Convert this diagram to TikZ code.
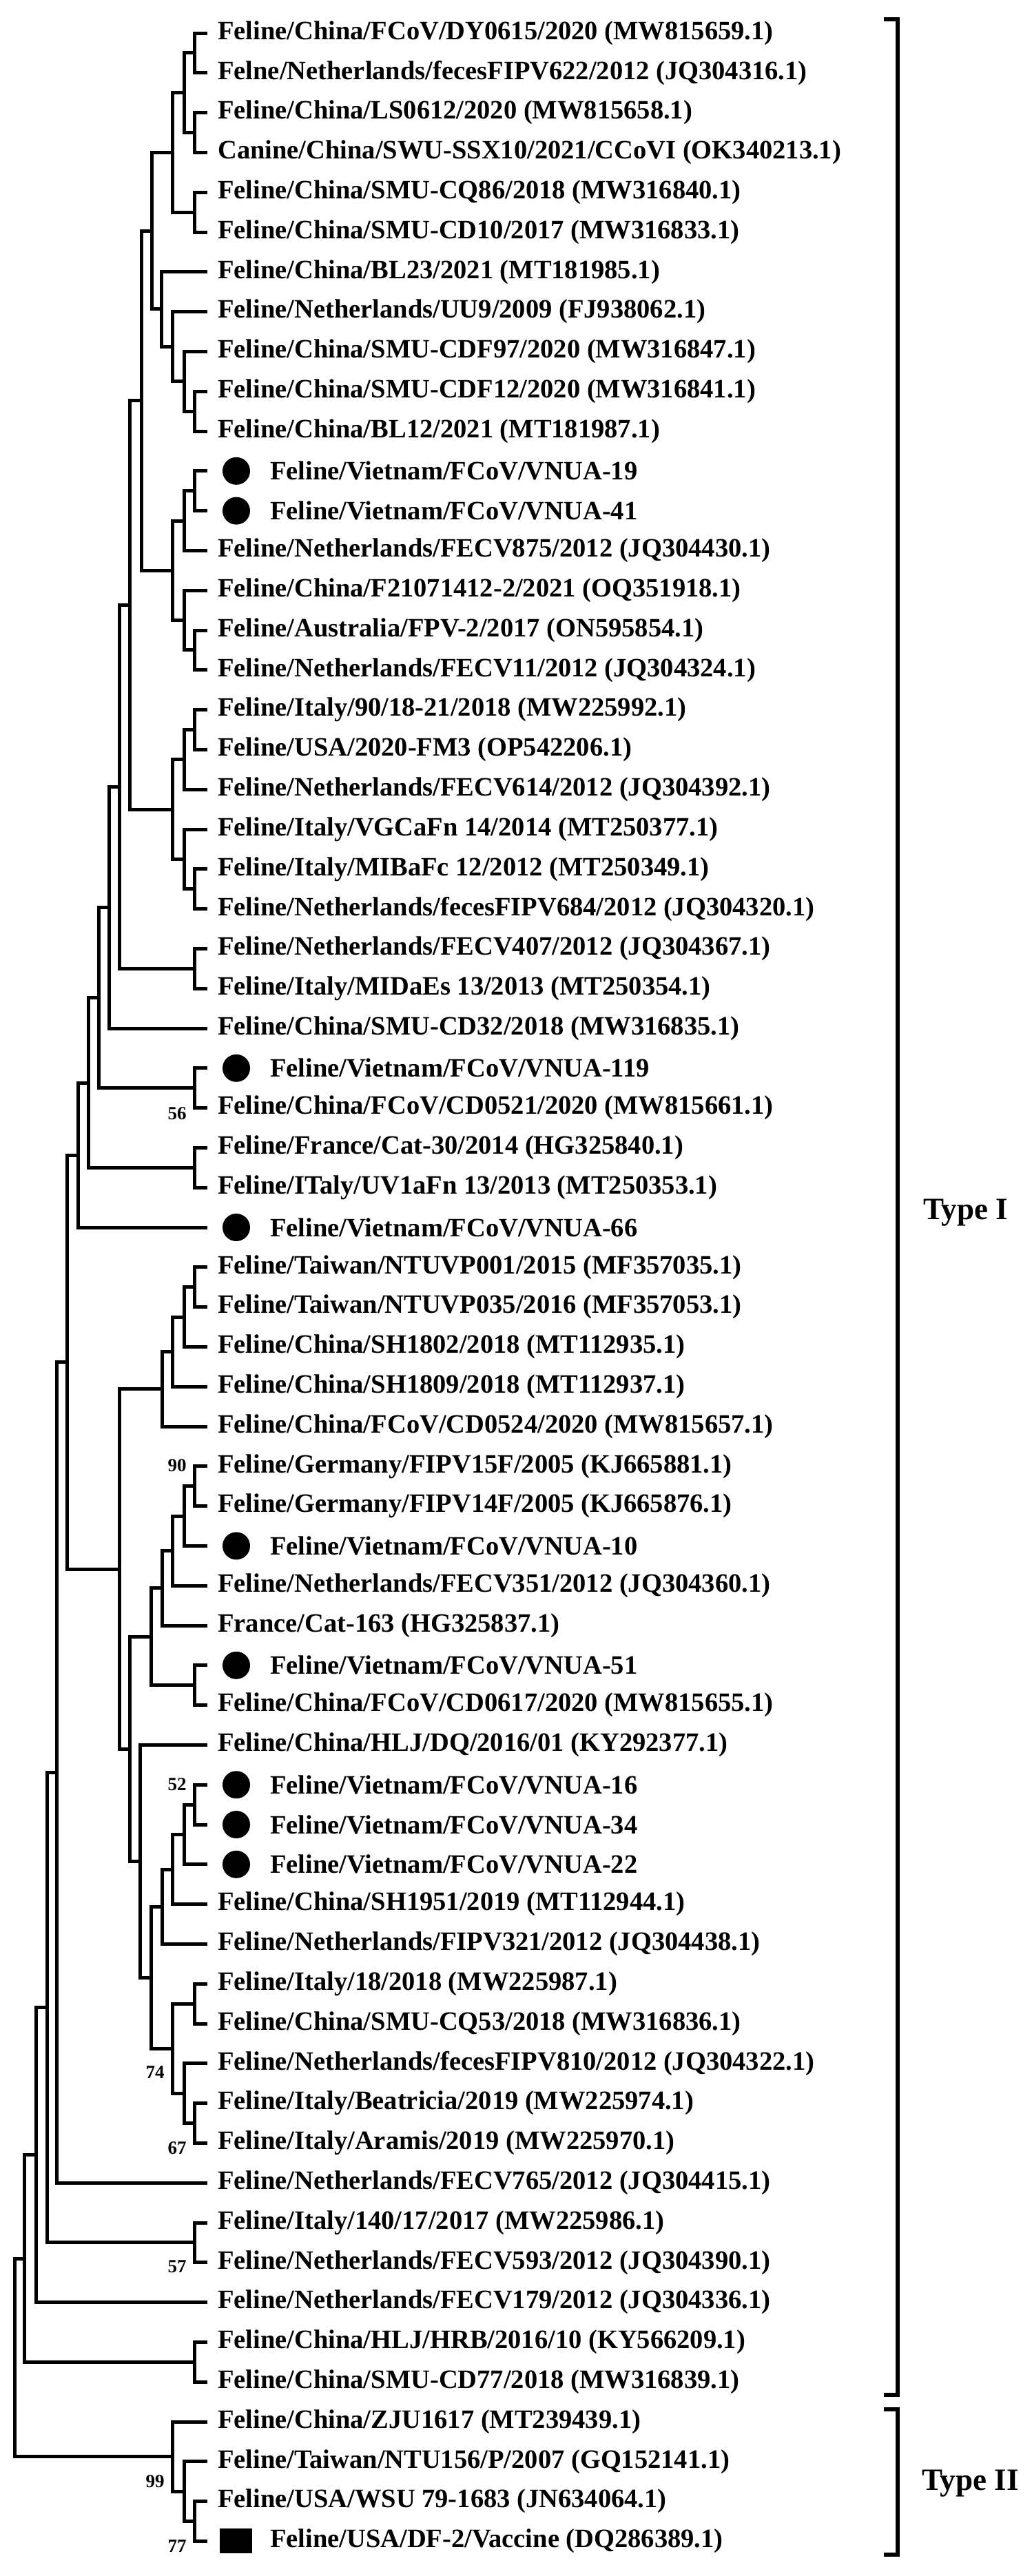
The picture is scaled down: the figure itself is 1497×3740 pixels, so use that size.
\documentclass[tikz,border=0pt]{standalone}
\usepackage{fontspec}
\setmainfont{Liberation Serif}
\usetikzlibrary{calc}
\tikzset{
  br/.style={line width=5pt, line cap=rect, line join=miter},
  lab/.style={anchor=west, inner sep=0pt, font=\bfseries\fontsize{38.5}{40}\selectfont},
  boot/.style={inner sep=0pt, font=\bfseries\fontsize{27}{28}\selectfont},
  dotmark/.style={circle, fill=black, minimum size=40pt, inner sep=0pt},
  sqmark/.style={rectangle, fill=black, minimum width=47pt, minimum height=36pt, inner sep=0pt},
  bracket/.style={line width=6pt},
  typelab/.style={anchor=west, inner sep=0pt, font=\bfseries\fontsize{45}{46}\selectfont}
}
\newcommand{\inode}[4]{%
  \coordinate (tmpm) at ($(#3)!.5!(#4)$);
  \coordinate (tmpx) at (#2,0);
  \coordinate (#1) at (tmpm -| tmpx);
  \draw[br] (#3) -| (#1) |- (#4);}
\newcommand{\leaf}[2]{\node[lab] (T#1) at (316,{48+57.8*(#1-1)}) {#2};}
\newcommand{\mleaf}[2]{\node[dotmark] (M#1) at (343,{48+57.8*(#1-1)}) {};
  \node[lab] (T#1) at (392,{48+57.8*(#1-1)}) {#2};}
\begin{document}
\begin{tikzpicture}[x=1pt,y=-1pt]
\useasboundingbox (0,0) rectangle (1497,3740);
\foreach \i in {1,...,64} {\coordinate (L\i) at (298,{48+57.8*(\i-1)});}
% labels
\leaf{1}{Feline/China/FCoV/DY0615/2020 (MW815659.1)}
\leaf{2}{Felne/Netherlands/fecesFIPV622/2012 (JQ304316.1)}
\leaf{3}{Feline/China/LS0612/2020 (MW815658.1)}
\leaf{4}{Canine/China/SWU-SSX10/2021/CCoVI (OK340213.1)}
\leaf{5}{Feline/China/SMU-CQ86/2018 (MW316840.1)}
\leaf{6}{Feline/China/SMU-CD10/2017 (MW316833.1)}
\leaf{7}{Feline/China/BL23/2021 (MT181985.1)}
\leaf{8}{Feline/Netherlands/UU9/2009 (FJ938062.1)}
\leaf{9}{Feline/China/SMU-CDF97/2020 (MW316847.1)}
\leaf{10}{Feline/China/SMU-CDF12/2020 (MW316841.1)}
\leaf{11}{Feline/China/BL12/2021 (MT181987.1)}
\mleaf{12}{Feline/Vietnam/FCoV/VNUA-19}
\mleaf{13}{Feline/Vietnam/FCoV/VNUA-41}
\leaf{14}{Feline/Netherlands/FECV875/2012 (JQ304430.1)}
\leaf{15}{Feline/China/F21071412-2/2021 (OQ351918.1)}
\leaf{16}{Feline/Australia/FPV-2/2017 (ON595854.1)}
\leaf{17}{Feline/Netherlands/FECV11/2012 (JQ304324.1)}
\leaf{18}{Feline/Italy/90/18-21/2018 (MW225992.1)}
\leaf{19}{Feline/USA/2020-FM3 (OP542206.1)}
\leaf{20}{Feline/Netherlands/FECV614/2012 (JQ304392.1)}
\leaf{21}{Feline/Italy/VGCaFn 14/2014 (MT250377.1)}
\leaf{22}{Feline/Italy/MIBaFc 12/2012 (MT250349.1)}
\leaf{23}{Feline/Netherlands/fecesFIPV684/2012 (JQ304320.1)}
\leaf{24}{Feline/Netherlands/FECV407/2012 (JQ304367.1)}
\leaf{25}{Feline/Italy/MIDaEs 13/2013 (MT250354.1)}
\leaf{26}{Feline/China/SMU-CD32/2018 (MW316835.1)}
\mleaf{27}{Feline/Vietnam/FCoV/VNUA-119}
\leaf{28}{Feline/China/FCoV/CD0521/2020 (MW815661.1)}
\leaf{29}{Feline/France/Cat-30/2014 (HG325840.1)}
\leaf{30}{Feline/ITaly/UV1aFn 13/2013 (MT250353.1)}
\mleaf{31}{Feline/Vietnam/FCoV/VNUA-66}
\leaf{32}{Feline/Taiwan/NTUVP001/2015 (MF357035.1)}
\leaf{33}{Feline/Taiwan/NTUVP035/2016 (MF357053.1)}
\leaf{34}{Feline/China/SH1802/2018 (MT112935.1)}
\leaf{35}{Feline/China/SH1809/2018 (MT112937.1)}
\leaf{36}{Feline/China/FCoV/CD0524/2020 (MW815657.1)}
\leaf{37}{Feline/Germany/FIPV15F/2005 (KJ665881.1)}
\leaf{38}{Feline/Germany/FIPV14F/2005 (KJ665876.1)}
\mleaf{39}{Feline/Vietnam/FCoV/VNUA-10}
\leaf{40}{Feline/Netherlands/FECV351/2012 (JQ304360.1)}
\leaf{41}{France/Cat-163 (HG325837.1)}
\mleaf{42}{Feline/Vietnam/FCoV/VNUA-51}
\leaf{43}{Feline/China/FCoV/CD0617/2020 (MW815655.1)}
\leaf{44}{Feline/China/HLJ/DQ/2016/01 (KY292377.1)}
\mleaf{45}{Feline/Vietnam/FCoV/VNUA-16}
\mleaf{46}{Feline/Vietnam/FCoV/VNUA-34}
\mleaf{47}{Feline/Vietnam/FCoV/VNUA-22}
\leaf{48}{Feline/China/SH1951/2019 (MT112944.1)}
\leaf{49}{Feline/Netherlands/FIPV321/2012 (JQ304438.1)}
\leaf{50}{Feline/Italy/18/2018 (MW225987.1)}
\leaf{51}{Feline/China/SMU-CQ53/2018 (MW316836.1)}
\leaf{52}{Feline/Netherlands/fecesFIPV810/2012 (JQ304322.1)}
\leaf{53}{Feline/Italy/Beatricia/2019 (MW225974.1)}
\leaf{54}{Feline/Italy/Aramis/2019 (MW225970.1)}
\leaf{55}{Feline/Netherlands/FECV765/2012 (JQ304415.1)}
\leaf{56}{Feline/Italy/140/17/2017 (MW225986.1)}
\leaf{57}{Feline/Netherlands/FECV593/2012 (JQ304390.1)}
\leaf{58}{Feline/Netherlands/FECV179/2012 (JQ304336.1)}
\leaf{59}{Feline/China/HLJ/HRB/2016/10 (KY566209.1)}
\leaf{60}{Feline/China/SMU-CD77/2018 (MW316839.1)}
\leaf{61}{Feline/China/ZJU1617 (MT239439.1)}
\leaf{62}{Feline/Taiwan/NTU156/P/2007 (GQ152141.1)}
\leaf{63}{Feline/USA/WSU 79-1683 (JN634064.1)}
\node[sqmark] (M64) at (342,{48+57.8*63}) {};
\node[lab] (T64) at (392,{48+57.8*63}) {Feline/USA/DF-2/Vaccine (DQ286389.1)};
% tree
\inode{nA}{282}{L1}{L2}
\inode{nB}{282}{L3}{L4}
\inode{nC}{267}{nA}{nB}
\inode{nD}{282}{L5}{L6}
\inode{nE}{250}{nC}{nD}
\inode{nJ}{282}{L10}{L11}
\inode{nI}{267}{L9}{nJ}
\inode{nH}{250}{L8}{nI}
\inode{nG}{234}{L7}{nH}
\inode{nF}{220}{nE}{nG}
\inode{nP}{282}{L12}{L13}
\inode{nM}{267}{nP}{L14}
\inode{nQ}{282}{L16}{L17}
\inode{nN}{267}{L15}{nQ}
\inode{nL}{250}{nM}{nN}
\inode{nK}{205}{nF}{nL}
\inode{nV}{282}{L18}{L19}
\inode{nT}{267}{nV}{L20}
\inode{nW}{282}{L22}{L23}
\inode{nU}{267}{L21}{nW}
\inode{nS}{250}{nT}{nU}
\inode{nR}{188}{nK}{nS}
\inode{nY}{282}{L24}{L25}
\inode{nX}{173}{nR}{nY}
\inode{nZ}{158}{nX}{L26}
\inode{nAB}{282}{L27}{L28}
\inode{nAA}{143}{nZ}{nAB}
\inode{nAD}{282}{L29}{L30}
\inode{nAC}{128}{nAA}{nAD}
\inode{nAE}{113}{nAC}{L31}
\inode{nAU}{282}{L32}{L33}
\inode{nAT}{267}{nAU}{L34}
\inode{nAS}{250}{nAT}{L35}
\inode{nAQ}{235}{nAS}{L36}
\inode{nBB}{282}{L37}{L38}
\inode{nBA}{267}{nBB}{L39}
\inode{nAZ}{250}{nBA}{L40}
\inode{nAX}{235}{nAZ}{L41}
\inode{nAY}{282}{L42}{L43}
\inode{nAV}{219}{nAX}{nAY}
\inode{nBH}{282}{L45}{L46}
\inode{nBG}{267}{nBH}{L47}
\inode{nBF}{250}{nBG}{L48}
\inode{nBD}{235}{nBF}{L49}
\inode{nBI}{282}{L50}{L51}
\inode{nBK}{282}{L53}{L54}
\inode{nBJ}{267}{L52}{nBK}
\inode{nBE}{250}{nBI}{nBJ}
\inode{nBC}{219}{nBD}{nBE}
\inode{nAW}{203}{L44}{nBC}
\inode{nAR}{188}{nAV}{nAW}
\inode{nAG}{173}{nAQ}{nAR}
\inode{nAF}{97}{nAE}{nAG}
\inode{nAH}{82}{nAF}{L55}
\inode{nAI}{282}{L56}{L57}
\inode{nAJ}{68}{nAH}{nAI}
\inode{nAK}{52}{nAJ}{L58}
\inode{nAM}{282}{L59}{L60}
\inode{nAL}{35}{nAK}{nAM}
\inode{nAP}{282}{L63}{L64}
\inode{nAO}{267}{L62}{nAP}
\inode{nAN}{250}{L61}{nAO}
\inode{nRoot}{21}{nAL}{nAN}
% bootstrap values
\node[boot] (b56) at (257,1617) {56};
\node[boot] (b90) at (257,2128) {90};
\node[boot] (b52) at (257,2591) {52};
\node[boot] (b74) at (225,3009) {74};
\node[boot] (b67) at (257,3119) {67};
\node[boot] (b57) at (257,3291) {57};
\node[boot] (b99) at (225,3603) {99};
\node[boot] (b77) at (257,3697) {77};
% brackets
\coordinate (k1a) at (1283,28);
\coordinate (k1b) at (1283,3477);
\draw[bracket] (k1a) -- ++(20,0) |- (k1b);
\node[typelab] (t1) at (1340,1761) {Type I};
\coordinate (k2a) at (1283,3498);
\coordinate (k2b) at (1283,3709);
\draw[bracket] (k2a) -- ++(20,0) |- (k2b);
\node[typelab] (t2) at (1338,3606) {Type II};
\end{tikzpicture}
\end{document}
